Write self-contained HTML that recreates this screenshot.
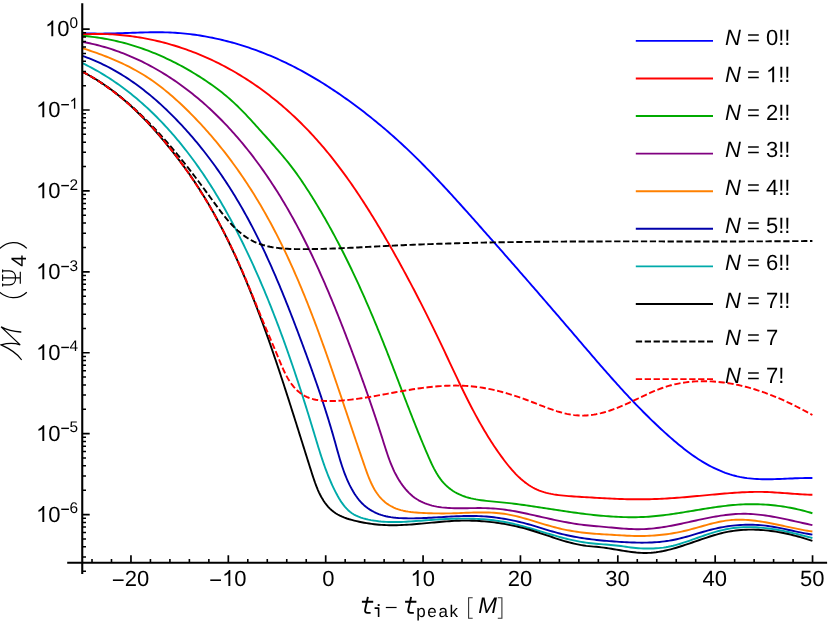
<!DOCTYPE html>
<html><head><meta charset="utf-8"><title>Mismatch plot</title>
<style>
html,body{margin:0;padding:0;background:#fff;}
body{width:830px;height:623px;overflow:hidden;font-family:"Liberation Sans",sans-serif;}
#wrap{will-change:transform;width:830px;height:623px;}
svg{display:block;}
</style></head><body>
<div id="wrap"><svg width="830" height="623" viewBox="0 0 830 623" style="text-rendering:geometricPrecision">
<rect width="830" height="623" fill="#fff"/>
<g fill="none" stroke-width="1.9" stroke-linejoin="round">
<path d="M82.3 33.09L84.8 33.23L87.32 33.34L89.85 33.43L92.37 33.5L94.89 33.55L97.41 33.58L99.93 33.59L102.45 33.59L104.96 33.57L107.48 33.53L110 33.49L112.51 33.43L115.02 33.37L117.53 33.29L120.04 33.21L122.55 33.13L125.06 33.04L127.57 32.95L130.08 32.86L132.59 32.77L135.09 32.69L137.6 32.61L140.1 32.53L142.61 32.46L145.11 32.39L147.61 32.34L150.12 32.3L152.62 32.27L155.12 32.25L157.62 32.25L160.12 32.26L162.62 32.3L165.13 32.35L167.63 32.42L170.13 32.52L172.63 32.64L175.12 32.79L177.62 32.96L180.12 33.15L182.62 33.37L185.12 33.61L187.61 33.87L190.11 34.16L192.6 34.48L195.09 34.81L197.58 35.17L200.06 35.56L202.55 35.96L205.03 36.39L207.51 36.84L209.98 37.31L212.45 37.8L214.92 38.32L217.38 38.85L219.84 39.41L222.3 39.99L224.75 40.59L227.2 41.21L229.64 41.86L232.07 42.52L234.5 43.2L236.93 43.9L239.35 44.63L241.77 45.37L244.17 46.13L246.57 46.91L248.97 47.71L251.36 48.53L253.74 49.37L256.11 50.22L258.48 51.09L260.84 51.99L263.19 52.9L265.54 53.83L267.87 54.77L270.2 55.73L272.52 56.71L274.83 57.71L277.13 58.72L279.42 59.75L281.7 60.8L283.97 61.86L286.23 62.94L288.49 64.04L290.73 65.15L292.97 66.27L295.19 67.41L297.41 68.57L299.62 69.74L301.82 70.93L304.01 72.13L306.2 73.34L308.37 74.57L310.54 75.81L312.7 77.07L314.85 78.34L317 79.62L319.13 80.92L321.26 82.23L323.38 83.55L325.5 84.88L327.6 86.23L329.7 87.59L331.8 88.96L333.88 90.34L335.96 91.74L338.03 93.14L340.1 94.56L342.16 95.99L344.21 97.43L346.26 98.88L348.3 100.34L350.34 101.81L352.37 103.29L354.39 104.78L356.41 106.28L358.42 107.79L360.43 109.31L362.43 110.84L364.42 112.37L366.41 113.92L368.39 115.48L370.37 117.05L372.33 118.62L374.3 120.21L376.25 121.8L378.2 123.4L380.14 125.01L382.07 126.63L384 128.26L385.92 129.9L387.83 131.54L389.73 133.19L391.63 134.85L393.52 136.52L395.4 138.2L397.27 139.89L399.13 141.58L400.99 143.28L402.84 144.99L404.68 146.7L406.51 148.42L408.33 150.15L410.15 151.89L411.96 153.63L413.76 155.38L415.56 157.14L417.35 158.9L419.13 160.67L420.91 162.45L422.68 164.23L424.44 166.01L426.2 167.8L427.95 169.6L429.7 171.4L431.44 173.21L433.17 175.02L434.9 176.84L436.63 178.66L438.35 180.48L440.07 182.31L441.78 184.14L443.49 185.98L445.2 187.82L446.9 189.66L448.6 191.51L450.3 193.36L451.99 195.21L453.68 197.07L455.36 198.93L457.05 200.79L458.73 202.65L460.41 204.51L462.09 206.38L463.76 208.25L465.44 210.12L467.11 211.99L468.78 213.86L470.45 215.74L472.12 217.61L473.79 219.49L475.46 221.37L477.13 223.24L478.8 225.12L480.46 227L482.13 228.88L483.79 230.76L485.46 232.64L487.12 234.52L488.79 236.4L490.45 238.28L492.11 240.17L493.78 242.05L495.44 243.94L497.1 245.82L498.76 247.71L500.42 249.59L502.08 251.48L503.74 253.37L505.39 255.26L507.05 257.15L508.71 259.04L510.36 260.93L512.02 262.82L513.67 264.71L515.33 266.6L516.98 268.49L518.64 270.38L520.29 272.28L521.94 274.17L523.59 276.07L525.24 277.96L526.89 279.86L528.54 281.75L530.19 283.65L531.84 285.55L533.49 287.45L535.13 289.35L536.78 291.24L538.43 293.14L540.07 295.04L541.72 296.94L543.36 298.85L545.01 300.75L546.65 302.65L548.29 304.55L549.93 306.45L551.58 308.36L553.22 310.26L554.86 312.17L556.5 314.07L558.13 315.98L559.77 317.88L561.41 319.79L563.05 321.7L564.68 323.6L566.32 325.51L567.96 327.42L569.59 329.33L571.23 331.24L572.86 333.15L574.49 335.06L576.12 336.97L577.76 338.88L579.39 340.79L581.02 342.7L582.65 344.61L584.29 346.52L585.92 348.43L587.55 350.33L589.19 352.24L590.82 354.15L592.46 356.05L594.1 357.96L595.74 359.86L597.38 361.76L599.02 363.66L600.67 365.55L602.32 367.44L603.97 369.34L605.63 371.22L607.28 373.11L608.94 374.99L610.61 376.87L612.28 378.75L613.95 380.62L615.62 382.49L617.3 384.35L618.99 386.21L620.67 388.07L622.37 389.92L624.07 391.77L625.77 393.61L627.48 395.45L629.19 397.28L630.91 399.11L632.64 400.93L634.37 402.74L636.1 404.55L637.85 406.36L639.6 408.16L641.36 409.95L643.12 411.73L644.89 413.51L646.67 415.28L648.46 417.05L650.25 418.81L652.06 420.56L653.87 422.3L655.68 424.04L657.51 425.76L659.35 427.48L661.19 429.19L663.05 430.9L664.91 432.59L666.78 434.28L668.67 435.95L670.56 437.62L672.46 439.28L674.37 440.92L676.3 442.55L678.24 444.17L680.19 445.77L682.16 447.35L684.13 448.91L686.13 450.45L688.14 451.97L690.17 453.46L692.21 454.93L694.27 456.37L696.36 457.78L698.46 459.17L700.57 460.52L702.72 461.83L704.88 463.11L707.06 464.36L709.27 465.57L711.49 466.73L713.74 467.86L716.01 468.94L718.3 469.97L720.61 470.96L722.93 471.9L725.27 472.78L727.64 473.61L730.01 474.39L732.4 475.11L734.81 475.76L737.23 476.36L739.67 476.89L742.12 477.35L744.58 477.76L747.05 478.11L749.53 478.4L752.02 478.65L754.52 478.85L757.03 479L759.54 479.11L762.06 479.19L764.58 479.23L767.11 479.25L769.64 479.23L772.18 479.19L774.72 479.13L777.25 479.06L779.79 478.97L782.33 478.87L784.86 478.76L787.39 478.65L789.92 478.54L792.44 478.43L794.96 478.32L797.48 478.23L799.98 478.15L802.48 478.08L804.97 478.03L807.45 478.01L809.92 478.01L812.4 478.04" stroke="#0000ff"/>
<path d="M82.3 34.45L84.82 34.31L87.33 34.19L89.84 34.1L92.36 34.03L94.87 33.99L97.38 33.97L99.89 33.98L102.4 34.02L104.91 34.08L107.42 34.16L109.93 34.27L112.44 34.41L114.95 34.57L117.45 34.75L119.96 34.96L122.46 35.19L124.96 35.45L127.45 35.73L129.95 36.04L132.44 36.37L134.93 36.72L137.41 37.1L139.89 37.5L142.37 37.92L144.84 38.37L147.31 38.84L149.78 39.33L152.24 39.85L154.7 40.39L157.15 40.95L159.59 41.54L162.03 42.14L164.47 42.77L166.9 43.43L169.32 44.1L171.74 44.8L174.15 45.52L176.55 46.26L178.95 47.02L181.34 47.8L183.72 48.61L186.1 49.43L188.47 50.28L190.83 51.15L193.18 52.04L195.52 52.96L197.86 53.89L200.18 54.84L202.5 55.81L204.81 56.81L207.1 57.82L209.39 58.86L211.67 59.91L213.94 60.99L216.2 62.08L218.45 63.2L220.7 64.33L222.93 65.49L225.15 66.66L227.36 67.85L229.56 69.06L231.75 70.29L233.93 71.53L236.1 72.8L238.26 74.08L240.41 75.38L242.55 76.69L244.68 78.03L246.79 79.38L248.9 80.75L251 82.14L253.08 83.54L255.16 84.96L257.22 86.39L259.27 87.85L261.31 89.31L263.34 90.8L265.36 92.3L267.36 93.81L269.36 95.34L271.34 96.89L273.31 98.45L275.27 100.02L277.22 101.61L279.15 103.22L281.08 104.83L282.99 106.47L284.89 108.11L286.77 109.77L288.65 111.45L290.51 113.13L292.36 114.83L294.2 116.54L296.02 118.27L297.83 120.01L299.63 121.76L301.42 123.52L303.19 125.3L304.95 127.09L306.7 128.88L308.44 130.69L310.16 132.52L311.87 134.35L313.56 136.19L315.25 138.05L316.92 139.91L318.58 141.79L320.23 143.68L321.87 145.57L323.49 147.48L325.11 149.4L326.71 151.33L328.3 153.26L329.89 155.21L331.46 157.16L333.02 159.12L334.57 161.1L336.1 163.08L337.63 165.07L339.15 167.07L340.66 169.07L342.16 171.09L343.65 173.11L345.13 175.14L346.6 177.17L348.06 179.22L349.52 181.27L350.96 183.33L352.4 185.39L353.82 187.46L355.24 189.54L356.65 191.62L358.05 193.71L359.45 195.81L360.83 197.91L362.21 200.02L363.58 202.13L364.94 204.25L366.3 206.37L367.65 208.5L368.99 210.63L370.33 212.77L371.66 214.91L372.98 217.06L374.29 219.21L375.6 221.36L376.91 223.52L378.2 225.68L379.5 227.84L380.78 230.01L382.06 232.18L383.34 234.35L384.61 236.52L385.87 238.7L387.13 240.88L388.39 243.06L389.64 245.24L390.88 247.43L392.13 249.62L393.36 251.81L394.59 254L395.82 256.19L397.05 258.39L398.26 260.58L399.48 262.78L400.69 264.98L401.9 267.18L403.1 269.39L404.3 271.6L405.49 273.8L406.68 276.01L407.86 278.23L409.05 280.44L410.22 282.65L411.4 284.87L412.56 287.09L413.73 289.31L414.89 291.53L416.05 293.76L417.2 295.98L418.35 298.21L419.5 300.44L420.64 302.67L421.78 304.91L422.91 307.14L424.04 309.38L425.17 311.62L426.3 313.86L427.42 316.1L428.53 318.35L429.65 320.59L430.76 322.84L431.86 325.09L432.97 327.34L434.07 329.59L435.16 331.85L436.26 334.1L437.35 336.36L438.44 338.62L439.52 340.88L440.6 343.14L441.68 345.41L442.75 347.67L443.83 349.94L444.89 352.21L445.96 354.48L447.03 356.75L448.09 359.02L449.16 361.3L450.22 363.57L451.29 365.84L452.35 368.11L453.42 370.38L454.49 372.66L455.56 374.93L456.64 377.19L457.71 379.46L458.8 381.73L459.88 383.99L460.97 386.25L462.07 388.51L463.17 390.77L464.27 393.02L465.39 395.27L466.51 397.52L467.64 399.76L468.77 402L469.92 404.24L471.07 406.47L472.23 408.7L473.4 410.92L474.59 413.14L475.78 415.35L476.98 417.56L478.2 419.76L479.43 421.96L480.67 424.15L481.92 426.33L483.19 428.51L484.47 430.67L485.77 432.84L487.08 434.99L488.4 437.14L489.75 439.28L491.1 441.41L492.48 443.54L493.87 445.65L495.28 447.76L496.71 449.86L498.16 451.95L499.62 454.03L501.11 456.1L502.62 458.16L504.14 460.21L505.69 462.24L507.27 464.25L508.87 466.23L510.5 468.18L512.16 470.1L513.84 471.97L515.56 473.8L517.32 475.58L519.11 477.31L520.94 478.98L522.8 480.59L524.71 482.12L526.66 483.59L528.65 484.97L530.69 486.28L532.77 487.5L534.9 488.63L537.09 489.66L539.32 490.59L541.6 491.42L543.93 492.17L546.3 492.83L548.71 493.41L551.15 493.93L553.62 494.38L556.12 494.77L558.64 495.11L561.18 495.41L563.74 495.66L566.3 495.89L568.88 496.09L571.45 496.27L574.03 496.45L576.61 496.61L579.17 496.77L581.73 496.94L584.29 497.1L586.84 497.26L589.38 497.42L591.91 497.57L594.44 497.73L596.97 497.87L599.49 498.02L602.01 498.16L604.52 498.29L607.03 498.42L609.54 498.54L612.04 498.66L614.55 498.77L617.04 498.87L619.54 498.96L622.04 499.04L624.53 499.11L627.02 499.18L629.51 499.23L632 499.27L634.49 499.3L636.99 499.32L639.48 499.32L641.97 499.31L644.46 499.29L646.96 499.25L649.45 499.2L651.95 499.13L654.45 499.05L656.96 498.96L659.46 498.85L661.96 498.73L664.47 498.59L666.98 498.45L669.49 498.3L671.99 498.13L674.5 497.96L677.01 497.77L679.53 497.58L682.04 497.38L684.55 497.18L687.06 496.97L689.57 496.75L692.08 496.53L694.59 496.3L697.1 496.07L699.61 495.84L702.12 495.61L704.62 495.37L707.13 495.13L709.63 494.9L712.14 494.66L714.64 494.43L717.14 494.2L719.64 493.97L722.14 493.75L724.64 493.53L727.14 493.33L729.64 493.13L732.14 492.94L734.64 492.77L737.14 492.6L739.64 492.45L742.14 492.32L744.64 492.2L747.14 492.1L749.64 492.02L752.15 491.95L754.65 491.91L757.16 491.89L759.66 491.9L762.17 491.92L764.68 491.98L767.19 492.06L769.71 492.16L772.22 492.29L774.74 492.43L777.25 492.59L779.77 492.76L782.29 492.94L784.81 493.13L787.32 493.32L789.84 493.51L792.35 493.69L794.87 493.88L797.38 494.05L799.89 494.21L802.4 494.36L804.9 494.5L807.41 494.61L809.91 494.7L812.4 494.76" stroke="#ff0000"/>
<path d="M82.3 35.87L84.75 36.07L87.28 36.3L89.8 36.56L92.31 36.84L94.81 37.16L97.31 37.5L99.8 37.87L102.29 38.27L104.77 38.69L107.24 39.14L109.7 39.62L112.16 40.13L114.61 40.66L117.06 41.21L119.5 41.8L121.93 42.4L124.35 43.04L126.77 43.7L129.17 44.38L131.57 45.09L133.97 45.82L136.35 46.58L138.73 47.36L141.1 48.17L143.46 48.99L145.81 49.84L148.15 50.72L150.49 51.62L152.81 52.54L155.13 53.48L157.44 54.44L159.74 55.43L162.04 56.44L164.32 57.47L166.59 58.52L168.86 59.59L171.11 60.68L173.36 61.79L175.59 62.93L177.82 64.08L180.04 65.25L182.25 66.45L184.44 67.66L186.63 68.89L188.81 70.14L190.98 71.41L193.13 72.7L195.28 74L197.42 75.32L199.54 76.67L201.66 78.02L203.76 79.4L205.86 80.79L207.94 82.2L210.01 83.63L212.06 85.08L214.11 86.55L216.13 88.03L218.14 89.54L220.14 91.06L222.11 92.61L224.07 94.18L226 95.77L227.92 97.39L229.81 99.03L231.68 100.69L233.53 102.37L235.36 104.08L237.17 105.81L238.96 107.56L240.73 109.33L242.48 111.11L244.23 112.91L245.95 114.72L247.67 116.54L249.38 118.38L251.08 120.22L252.77 122.07L254.46 123.93L256.14 125.79L257.83 127.66L259.51 129.53L261.19 131.39L262.87 133.26L264.55 135.13L266.23 137L267.9 138.87L269.58 140.74L271.25 142.62L272.91 144.5L274.57 146.39L276.22 148.28L277.86 150.17L279.5 152.08L281.12 153.99L282.74 155.91L284.34 157.83L285.93 159.77L287.51 161.72L289.07 163.68L290.61 165.64L292.14 167.63L293.65 169.62L295.15 171.63L296.62 173.65L298.07 175.69L299.51 177.74L300.92 179.8L302.32 181.87L303.71 183.96L305.09 186.05L306.46 188.15L307.82 190.25L309.17 192.36L310.51 194.47L311.84 196.59L313.17 198.72L314.48 200.85L315.79 202.99L317.09 205.13L318.38 207.28L319.66 209.43L320.94 211.59L322.21 213.75L323.46 215.92L324.72 218.09L325.96 220.27L327.19 222.46L328.42 224.64L329.64 226.84L330.85 229.03L332.06 231.23L333.26 233.44L334.45 235.65L335.63 237.87L336.8 240.09L337.97 242.31L339.13 244.54L340.29 246.77L341.44 249L342.58 251.24L343.71 253.48L344.84 255.73L345.96 257.98L347.07 260.23L348.18 262.49L349.28 264.75L350.38 267.01L351.47 269.27L352.55 271.54L353.63 273.81L354.7 276.09L355.76 278.37L356.82 280.65L357.87 282.93L358.92 285.22L359.96 287.5L361 289.79L362.03 292.09L363.06 294.38L364.08 296.68L365.09 298.98L366.1 301.28L367.11 303.58L368.11 305.89L369.1 308.19L370.09 310.5L371.08 312.81L372.06 315.13L373.03 317.44L374 319.75L374.97 322.07L375.93 324.39L376.89 326.7L377.84 329.02L378.79 331.34L379.74 333.66L380.68 335.99L381.62 338.31L382.55 340.63L383.48 342.96L384.4 345.28L385.33 347.6L386.25 349.93L387.16 352.26L388.07 354.58L388.98 356.91L389.88 359.23L390.79 361.56L391.69 363.89L392.59 366.21L393.48 368.54L394.38 370.87L395.27 373.19L396.16 375.52L397.05 377.85L397.95 380.18L398.84 382.51L399.73 384.84L400.62 387.17L401.51 389.5L402.4 391.83L403.29 394.16L404.19 396.49L405.08 398.82L405.98 401.16L406.88 403.49L407.78 405.82L408.69 408.16L409.6 410.49L410.51 412.83L411.42 415.16L412.34 417.5L413.26 419.84L414.19 422.18L415.12 424.51L416.05 426.85L416.99 429.19L417.93 431.53L418.88 433.87L419.84 436.22L420.8 438.56L421.77 440.9L422.75 443.25L423.73 445.59L424.71 447.94L425.71 450.28L426.71 452.63L427.72 454.98L428.74 457.33L429.78 459.67L430.83 462L431.91 464.32L433.02 466.6L434.17 468.86L435.36 471.07L436.61 473.24L437.91 475.36L439.27 477.42L440.71 479.4L442.22 481.32L443.82 483.15L445.5 484.9L447.26 486.56L449.11 488.12L451.04 489.58L453.04 490.95L455.11 492.22L457.24 493.38L459.43 494.44L461.68 495.4L463.98 496.27L466.32 497.04L468.71 497.74L471.13 498.36L473.59 498.91L476.08 499.4L478.6 499.83L481.13 500.22L483.68 500.56L486.25 500.87L488.82 501.15L491.4 501.41L493.97 501.65L496.54 501.89L499.1 502.12L501.65 502.35L504.18 502.6L506.69 502.86L509.18 503.14L511.66 503.43L514.12 503.73L516.58 504.05L519.04 504.37L521.49 504.71L523.95 505.05L526.41 505.4L528.87 505.76L531.34 506.12L533.81 506.48L536.28 506.85L538.75 507.23L541.22 507.61L543.7 507.98L546.17 508.36L548.65 508.75L551.13 509.13L553.61 509.51L556.1 509.89L558.58 510.26L561.07 510.64L563.56 511.01L566.05 511.37L568.54 511.74L571.03 512.09L573.52 512.44L576.01 512.79L578.51 513.12L581 513.45L583.5 513.77L586 514.08L588.49 514.38L590.99 514.67L593.49 514.94L595.99 515.21L598.49 515.46L600.99 515.7L603.49 515.92L605.99 516.13L608.49 516.32L610.99 516.5L613.49 516.65L616 516.8L618.5 516.92L621 517.02L623.5 517.1L626 517.17L628.5 517.21L631 517.23L633.49 517.22L635.99 517.2L638.49 517.15L640.99 517.07L643.48 516.97L645.98 516.84L648.47 516.69L650.97 516.51L653.46 516.3L655.95 516.07L658.44 515.82L660.93 515.54L663.42 515.24L665.91 514.93L668.4 514.6L670.89 514.25L673.38 513.89L675.86 513.52L678.35 513.13L680.84 512.74L683.32 512.34L685.81 511.93L688.3 511.52L690.78 511.11L693.27 510.69L695.75 510.27L698.24 509.86L700.72 509.45L703.21 509.04L705.7 508.64L708.18 508.24L710.67 507.86L713.16 507.49L715.64 507.12L718.13 506.77L720.62 506.44L723.11 506.13L725.6 505.83L728.09 505.55L730.58 505.29L733.07 505.06L735.57 504.85L738.06 504.66L740.56 504.51L743.05 504.38L745.55 504.28L748.05 504.22L750.55 504.18L753.04 504.18L755.54 504.2L758.04 504.26L760.54 504.35L763.04 504.47L765.53 504.61L768.03 504.79L770.52 505L773.01 505.24L775.5 505.51L777.99 505.82L780.47 506.15L782.95 506.51L785.43 506.9L787.9 507.33L790.37 507.78L792.84 508.27L795.3 508.78L797.76 509.33L800.21 509.9L802.65 510.51L805.09 511.14L807.53 511.81L809.96 512.51L812.4 513.24" stroke="#00aa00"/>
<path d="M82.3 41.83L84.68 42.29L87.17 42.77L89.65 43.29L92.13 43.83L94.59 44.41L97.05 45.01L99.49 45.64L101.93 46.3L104.35 46.99L106.77 47.7L109.18 48.44L111.57 49.21L113.96 50L116.33 50.82L118.7 51.67L121.05 52.54L123.4 53.43L125.73 54.36L128.05 55.3L130.37 56.27L132.67 57.27L134.96 58.29L137.24 59.33L139.51 60.39L141.77 61.48L144.02 62.59L146.25 63.73L148.48 64.89L150.69 66.06L152.89 67.26L155.08 68.49L157.26 69.73L159.43 70.99L161.58 72.28L163.73 73.58L165.86 74.9L167.98 76.25L170.08 77.61L172.18 78.99L174.26 80.4L176.33 81.82L178.39 83.25L180.44 84.71L182.47 86.18L184.49 87.68L186.5 89.18L188.49 90.71L190.48 92.25L192.44 93.81L194.4 95.39L196.34 96.98L198.27 98.58L200.19 100.2L202.09 101.84L203.98 103.49L205.86 105.16L207.72 106.84L209.58 108.53L211.41 110.24L213.24 111.96L215.05 113.7L216.85 115.45L218.63 117.21L220.41 118.99L222.17 120.78L223.92 122.58L225.65 124.39L227.37 126.22L229.08 128.05L230.78 129.9L232.47 131.77L234.14 133.64L235.8 135.52L237.45 137.42L239.09 139.33L240.71 141.24L242.32 143.17L243.92 145.11L245.51 147.06L247.09 149.02L248.65 150.98L250.2 152.96L251.75 154.95L253.28 156.95L254.79 158.95L256.3 160.97L257.79 162.99L259.28 165.02L260.75 167.06L262.21 169.11L263.66 171.16L265.1 173.23L266.52 175.3L267.94 177.37L269.35 179.46L270.74 181.55L272.12 183.65L273.49 185.75L274.86 187.87L276.21 189.98L277.55 192.11L278.88 194.24L280.2 196.37L281.5 198.52L282.8 200.67L284.09 202.82L285.37 204.98L286.64 207.14L287.9 209.31L289.15 211.49L290.39 213.67L291.62 215.86L292.84 218.05L294.06 220.25L295.26 222.45L296.46 224.66L297.64 226.87L298.82 229.08L299.99 231.31L301.15 233.53L302.3 235.76L303.45 238L304.58 240.24L305.71 242.48L306.83 244.73L307.94 246.98L309.05 249.23L310.15 251.49L311.24 253.75L312.32 256.02L313.4 258.29L314.46 260.57L315.53 262.84L316.58 265.12L317.63 267.41L318.67 269.7L319.71 271.99L320.74 274.28L321.76 276.58L322.78 278.88L323.79 281.18L324.79 283.48L325.79 285.79L326.78 288.1L327.77 290.41L328.75 292.73L329.73 295.04L330.7 297.36L331.67 299.69L332.63 302.01L333.58 304.33L334.54 306.66L335.48 308.99L336.43 311.32L337.36 313.65L338.3 315.99L339.23 318.32L340.15 320.66L341.08 322.99L341.99 325.33L342.91 327.67L343.82 330.01L344.73 332.36L345.63 334.7L346.53 337.04L347.43 339.39L348.32 341.73L349.21 344.07L350.1 346.42L350.99 348.77L351.87 351.11L352.75 353.46L353.63 355.8L354.5 358.15L355.37 360.5L356.24 362.85L357.11 365.2L357.97 367.55L358.83 369.9L359.69 372.25L360.55 374.6L361.4 376.96L362.25 379.31L363.09 381.67L363.94 384.03L364.78 386.39L365.62 388.75L366.45 391.11L367.28 393.47L368.11 395.84L368.93 398.21L369.76 400.58L370.57 402.95L371.39 405.32L372.2 407.7L373.01 410.08L373.82 412.46L374.62 414.84L375.42 417.23L376.21 419.62L377 422.01L377.79 424.4L378.58 426.8L379.36 429.2L380.14 431.6L380.91 434L381.68 436.41L382.45 438.82L383.22 441.24L383.98 443.66L384.74 446.07L385.52 448.49L386.3 450.9L387.1 453.31L387.92 455.7L388.77 458.09L389.64 460.46L390.55 462.82L391.49 465.16L392.48 467.48L393.51 469.78L394.59 472.06L395.73 474.31L396.93 476.53L398.19 478.73L399.52 480.89L400.92 483.01L402.39 485.1L403.93 487.13L405.54 489.1L407.22 491L408.97 492.82L410.78 494.54L412.66 496.16L414.59 497.66L416.58 499.04L418.63 500.3L420.74 501.44L422.89 502.46L425.09 503.39L427.34 504.21L429.64 504.93L431.97 505.57L434.34 506.12L436.74 506.59L439.18 506.99L441.65 507.33L444.14 507.6L446.66 507.82L449.2 507.98L451.76 508.1L454.34 508.18L456.93 508.23L459.53 508.25L462.13 508.25L464.75 508.23L467.36 508.2L469.98 508.16L472.59 508.12L475.2 508.09L477.8 508.07L480.39 508.07L482.96 508.09L485.52 508.13L488.06 508.21L490.58 508.33L493.08 508.48L495.57 508.67L498.04 508.89L500.5 509.14L502.95 509.43L505.39 509.74L507.82 510.09L510.25 510.46L512.67 510.86L515.09 511.29L517.51 511.74L519.94 512.22L522.37 512.72L524.8 513.24L527.23 513.78L529.67 514.32L532.11 514.87L534.56 515.42L537 515.98L539.45 516.53L541.91 517.09L544.36 517.64L546.82 518.19L549.28 518.74L551.74 519.28L554.21 519.81L556.68 520.33L559.15 520.84L561.62 521.33L564.09 521.82L566.57 522.28L569.05 522.73L571.53 523.16L574.01 523.57L576.49 523.96L578.98 524.33L581.46 524.67L583.95 524.98L586.44 525.27L588.93 525.52L591.42 525.76L593.91 525.98L596.4 526.19L598.9 526.4L601.4 526.62L603.9 526.85L606.4 527.09L608.91 527.33L611.42 527.57L613.92 527.81L616.43 528.04L618.94 528.25L621.45 528.46L623.96 528.64L626.47 528.81L628.97 528.95L631.48 529.06L633.99 529.15L636.49 529.19L639 529.2L641.5 529.17L644 529.1L646.49 528.97L648.99 528.81L651.48 528.6L653.97 528.35L656.46 528.06L658.95 527.74L661.43 527.39L663.91 527.01L666.39 526.6L668.87 526.16L671.35 525.71L673.83 525.23L676.31 524.74L678.78 524.23L681.26 523.71L683.73 523.18L686.2 522.64L688.68 522.1L691.15 521.55L693.62 521L696.09 520.46L698.56 519.92L701.03 519.39L703.5 518.86L705.97 518.35L708.44 517.86L710.91 517.38L713.38 516.92L715.86 516.48L718.33 516.07L720.8 515.68L723.28 515.32L725.75 514.99L728.23 514.7L730.71 514.45L733.19 514.23L735.67 514.05L738.15 513.92L740.63 513.84L743.11 513.8L745.6 513.82L748.09 513.88L750.58 513.99L753.07 514.15L755.56 514.34L758.05 514.58L760.54 514.86L763.03 515.17L765.52 515.51L768.01 515.88L770.5 516.28L772.99 516.71L775.47 517.16L777.95 517.63L780.43 518.12L782.91 518.63L785.39 519.15L787.86 519.68L790.33 520.22L792.79 520.76L795.25 521.31L797.7 521.87L800.16 522.42L802.6 522.97L805.04 523.51L807.48 524.05L809.9 524.57L812.4 525.09" stroke="#800080"/>
<path d="M82.3 48.19L84.69 48.95L87.08 49.72L89.47 50.51L91.86 51.32L94.23 52.14L96.61 52.97L98.98 53.83L101.34 54.7L103.69 55.59L106.04 56.5L108.38 57.42L110.7 58.37L113.02 59.34L115.33 60.32L117.63 61.33L119.92 62.36L122.2 63.42L124.46 64.49L126.72 65.59L128.96 66.72L131.18 67.87L133.39 69.04L135.59 70.24L137.77 71.47L139.94 72.72L142.09 74L144.22 75.31L146.33 76.64L148.43 78.01L150.51 79.4L152.57 80.82L154.62 82.27L156.65 83.74L158.66 85.24L160.66 86.76L162.64 88.3L164.6 89.87L166.55 91.45L168.49 93.06L170.41 94.68L172.31 96.33L174.2 97.99L176.08 99.67L177.95 101.36L179.8 103.07L181.64 104.79L183.47 106.52L185.28 108.27L187.08 110.03L188.88 111.8L190.66 113.58L192.42 115.37L194.18 117.17L195.92 118.98L197.66 120.8L199.38 122.63L201.09 124.47L202.79 126.32L204.48 128.18L206.15 130.05L207.82 131.92L209.47 133.81L211.12 135.71L212.75 137.62L214.37 139.53L215.98 141.46L217.58 143.39L219.16 145.33L220.74 147.29L222.3 149.25L223.86 151.21L225.4 153.19L226.93 155.18L228.45 157.17L229.96 159.17L231.46 161.18L232.95 163.2L234.43 165.23L235.89 167.26L237.35 169.3L238.8 171.35L240.23 173.41L241.65 175.47L243.07 177.54L244.47 179.62L245.86 181.71L247.24 183.8L248.62 185.9L249.98 188.01L251.33 190.12L252.67 192.24L253.99 194.37L255.31 196.5L256.62 198.64L257.92 200.78L259.21 202.94L260.49 205.09L261.75 207.26L263.01 209.43L264.26 211.6L265.49 213.79L266.72 215.97L267.94 218.17L269.15 220.37L270.35 222.57L271.54 224.78L272.72 226.99L273.89 229.21L275.05 231.44L276.2 233.67L277.35 235.9L278.48 238.14L279.61 240.38L280.73 242.63L281.84 244.88L282.94 247.14L284.03 249.4L285.12 251.67L286.19 253.94L287.26 256.21L288.32 258.49L289.38 260.77L290.43 263.06L291.46 265.35L292.5 267.64L293.52 269.94L294.54 272.24L295.55 274.55L296.55 276.85L297.55 279.16L298.54 281.48L299.52 283.79L300.5 286.11L301.47 288.44L302.44 290.76L303.39 293.09L304.35 295.42L305.29 297.75L306.23 300.09L307.17 302.43L308.1 304.77L309.02 307.11L309.94 309.45L310.86 311.8L311.76 314.15L312.67 316.5L313.57 318.85L314.46 321.2L315.35 323.56L316.23 325.92L317.11 328.27L317.99 330.63L318.86 332.99L319.73 335.36L320.59 337.72L321.45 340.08L322.31 342.45L323.16 344.81L324 347.18L324.85 349.54L325.69 351.91L326.53 354.28L327.36 356.65L328.19 359.02L329.02 361.39L329.85 363.75L330.67 366.12L331.49 368.49L332.31 370.86L333.13 373.23L333.94 375.6L334.75 377.96L335.56 380.33L336.36 382.7L337.17 385.06L337.97 387.43L338.77 389.79L339.57 392.15L340.37 394.52L341.17 396.88L341.97 399.24L342.76 401.6L343.56 403.96L344.35 406.33L345.15 408.69L345.94 411.05L346.74 413.42L347.53 415.78L348.33 418.15L349.12 420.52L349.92 422.89L350.72 425.26L351.52 427.63L352.32 430.01L353.12 432.39L353.92 434.77L354.73 437.15L355.54 439.54L356.35 441.93L357.16 444.32L357.97 446.72L358.79 449.12L359.61 451.52L360.44 453.93L361.26 456.34L362.1 458.76L362.93 461.18L363.77 463.6L364.61 466.03L365.46 468.47L366.32 470.9L367.2 473.32L368.11 475.72L369.05 478.1L370.03 480.45L371.06 482.76L372.14 485.03L373.28 487.25L374.48 489.42L375.76 491.52L377.12 493.55L378.57 495.5L380.11 497.37L381.76 499.15L383.51 500.84L385.37 502.42L387.34 503.89L389.4 505.24L391.56 506.47L393.78 507.56L396.07 508.52L398.43 509.36L400.83 510.08L403.28 510.7L405.77 511.22L408.28 511.66L410.83 512.02L413.39 512.31L415.96 512.54L418.53 512.73L421.1 512.88L423.67 513.01L426.21 513.11L428.74 513.2L431.25 513.28L433.75 513.34L436.23 513.38L438.71 513.41L441.19 513.43L443.66 513.43L446.14 513.41L448.62 513.38L451.1 513.33L453.59 513.26L456.09 513.18L458.6 513.1L461.11 513L463.63 512.91L466.15 512.81L468.68 512.72L471.21 512.64L473.74 512.57L476.27 512.51L478.79 512.47L481.32 512.46L483.85 512.46L486.37 512.5L488.89 512.56L491.41 512.66L493.92 512.8L496.42 512.98L498.91 513.21L501.4 513.48L503.88 513.8L506.35 514.18L508.81 514.61L511.26 515.09L513.7 515.61L516.14 516.17L518.57 516.77L520.99 517.4L523.41 518.06L525.82 518.74L528.23 519.44L530.64 520.15L533.05 520.88L535.45 521.61L537.86 522.35L540.26 523.09L542.67 523.82L545.08 524.55L547.49 525.26L549.9 525.96L552.32 526.63L554.74 527.29L557.17 527.91L559.6 528.5L562.04 529.06L564.49 529.59L566.94 530.08L569.39 530.55L571.86 530.98L574.32 531.39L576.8 531.77L579.27 532.12L581.75 532.44L584.24 532.74L586.73 533.01L589.23 533.26L591.72 533.48L594.22 533.69L596.73 533.88L599.24 534.05L601.75 534.22L604.26 534.37L606.77 534.52L609.29 534.66L611.8 534.8L614.32 534.94L616.84 535.08L619.36 535.23L621.88 535.38L624.4 535.54L626.92 535.68L629.43 535.81L631.95 535.91L634.45 535.98L636.96 536.02L639.46 536.04L641.96 536.02L644.46 535.98L646.95 535.9L649.44 535.8L651.93 535.66L654.41 535.5L656.89 535.3L659.37 535.07L661.85 534.81L664.33 534.52L666.8 534.2L669.27 533.85L671.74 533.47L674.2 533.05L676.67 532.6L679.13 532.11L681.59 531.6L684.05 531.05L686.51 530.47L688.97 529.85L691.42 529.2L693.87 528.54L696.33 527.86L698.78 527.16L701.23 526.47L703.68 525.78L706.14 525.09L708.59 524.42L711.04 523.77L713.5 523.15L715.96 522.56L718.41 522.01L720.87 521.51L723.34 521.06L725.8 520.66L728.27 520.33L730.74 520.07L733.21 519.88L735.69 519.76L738.16 519.7L740.64 519.7L743.12 519.75L745.61 519.86L748.09 520.02L750.58 520.23L753.06 520.48L755.55 520.77L758.04 521.1L760.52 521.47L763.01 521.87L765.5 522.29L767.98 522.74L770.47 523.21L772.95 523.7L775.43 524.21L777.91 524.73L780.39 525.25L782.86 525.79L785.34 526.32L787.81 526.86L790.27 527.39L792.74 527.92L795.2 528.43L797.65 528.93L800.11 529.42L802.56 529.88L805 530.33L807.44 530.75L809.87 531.14L812.4 531.49" stroke="#ff8000"/>
<path d="M82.3 55.82L84.62 56.67L87 57.54L89.36 58.45L91.71 59.39L94.04 60.36L96.36 61.36L98.66 62.39L100.94 63.44L103.21 64.52L105.47 65.63L107.7 66.77L109.93 67.94L112.13 69.13L114.33 70.34L116.5 71.59L118.66 72.85L120.81 74.14L122.94 75.46L125.06 76.8L127.16 78.16L129.25 79.54L131.32 80.95L133.38 82.38L135.43 83.83L137.46 85.3L139.48 86.79L141.48 88.3L143.47 89.83L145.44 91.38L147.4 92.95L149.35 94.53L151.28 96.14L153.2 97.76L155.11 99.4L157 101.05L158.88 102.73L160.75 104.41L162.6 106.11L164.44 107.83L166.27 109.56L168.08 111.31L169.89 113.06L171.68 114.84L173.45 116.62L175.22 118.42L176.97 120.22L178.71 122.04L180.44 123.87L182.15 125.71L183.86 127.56L185.55 129.42L187.23 131.29L188.89 133.17L190.55 135.06L192.19 136.96L193.82 138.87L195.44 140.79L197.05 142.72L198.65 144.66L200.23 146.6L201.8 148.56L203.36 150.52L204.91 152.5L206.45 154.48L207.97 156.47L209.49 158.47L210.99 160.48L212.48 162.5L213.96 164.53L215.43 166.56L216.88 168.6L218.33 170.65L219.76 172.71L221.19 174.78L222.6 176.85L224 178.93L225.38 181.02L226.76 183.12L228.13 185.22L229.48 187.33L230.83 189.45L232.16 191.57L233.48 193.7L234.79 195.84L236.09 197.99L237.38 200.14L238.66 202.3L239.92 204.46L241.18 206.63L242.42 208.81L243.66 210.99L244.89 213.18L246.1 215.37L247.31 217.57L248.5 219.78L249.69 221.99L250.86 224.21L252.03 226.43L253.19 228.66L254.34 230.89L255.48 233.13L256.61 235.37L257.73 237.62L258.85 239.87L259.95 242.13L261.05 244.39L262.14 246.65L263.22 248.92L264.29 251.19L265.36 253.47L266.42 255.75L267.47 258.04L268.51 260.33L269.55 262.62L270.58 264.91L271.6 267.21L272.62 269.52L273.63 271.82L274.63 274.13L275.63 276.44L276.62 278.76L277.6 281.07L278.58 283.39L279.56 285.72L280.52 288.04L281.49 290.37L282.44 292.7L283.4 295.03L284.34 297.36L285.28 299.7L286.22 302.03L287.15 304.37L288.08 306.71L289.01 309.05L289.92 311.4L290.84 313.74L291.75 316.09L292.66 318.43L293.56 320.78L294.46 323.13L295.36 325.48L296.26 327.83L297.15 330.18L298.03 332.53L298.92 334.88L299.8 337.23L300.68 339.58L301.56 341.93L302.43 344.28L303.31 346.63L304.18 348.98L305.05 351.33L305.91 353.68L306.77 356.03L307.63 358.38L308.49 360.74L309.34 363.09L310.19 365.44L311.04 367.8L311.88 370.15L312.72 372.51L313.56 374.87L314.39 377.23L315.22 379.59L316.05 381.95L316.87 384.31L317.68 386.68L318.49 389.05L319.3 391.42L320.1 393.79L320.9 396.16L321.69 398.54L322.48 400.92L323.26 403.3L324.04 405.69L324.81 408.07L325.57 410.46L326.33 412.86L327.09 415.25L327.84 417.65L328.58 420.06L329.31 422.46L330.04 424.87L330.77 427.29L331.49 429.71L332.2 432.13L332.9 434.56L333.6 436.99L334.29 439.42L334.97 441.86L335.65 444.3L336.33 446.75L337.01 449.19L337.69 451.63L338.38 454.07L339.09 456.51L339.81 458.94L340.54 461.36L341.3 463.77L342.08 466.18L342.89 468.57L343.73 470.95L344.6 473.31L345.51 475.66L346.46 477.99L347.46 480.3L348.5 482.59L349.58 484.86L350.73 487.1L351.92 489.32L353.18 491.51L354.5 493.66L355.89 495.77L357.35 497.81L358.88 499.79L360.5 501.68L362.21 503.48L364.01 505.17L365.89 506.75L367.86 508.23L369.9 509.6L372.02 510.87L374.2 512.03L376.43 513.08L378.73 514.02L381.07 514.86L383.45 515.6L385.87 516.23L388.33 516.75L390.81 517.18L393.32 517.52L395.84 517.79L398.38 518L400.93 518.14L403.47 518.24L406.02 518.31L408.57 518.34L411.11 518.35L413.65 518.33L416.18 518.29L418.71 518.23L421.24 518.15L423.76 518.05L426.28 517.94L428.8 517.82L431.32 517.69L433.83 517.55L436.34 517.4L438.85 517.25L441.36 517.1L443.87 516.95L446.37 516.8L448.87 516.66L451.37 516.53L453.87 516.4L456.37 516.29L458.87 516.19L461.37 516.1L463.87 516.03L466.36 515.98L468.86 515.96L471.36 515.96L473.86 515.98L476.35 516.04L478.85 516.12L481.35 516.24L483.85 516.39L486.35 516.57L488.85 516.79L491.35 517.03L493.84 517.31L496.34 517.62L498.83 517.96L501.32 518.33L503.81 518.73L506.29 519.16L508.77 519.62L511.25 520.11L513.72 520.62L516.18 521.16L518.64 521.73L521.1 522.32L523.54 522.94L525.98 523.59L528.41 524.25L530.84 524.95L533.25 525.66L535.66 526.39L538.07 527.12L540.47 527.87L542.88 528.61L545.28 529.36L547.68 530.09L550.08 530.82L552.49 531.53L554.9 532.21L557.31 532.88L559.73 533.51L562.16 534.12L564.59 534.69L567.03 535.24L569.48 535.76L571.93 536.26L574.39 536.72L576.85 537.17L579.31 537.59L581.79 537.99L584.26 538.37L586.74 538.72L589.23 539.06L591.72 539.37L594.21 539.67L596.7 539.95L599.2 540.22L601.71 540.46L604.21 540.7L606.72 540.92L609.23 541.12L611.74 541.32L614.25 541.5L616.77 541.67L619.29 541.83L621.8 541.99L624.32 542.13L626.84 542.26L629.36 542.38L631.88 542.48L634.4 542.56L636.92 542.62L639.44 542.66L641.95 542.68L644.46 542.67L646.97 542.63L649.48 542.56L651.98 542.46L654.48 542.32L656.98 542.15L659.47 541.94L661.95 541.68L664.43 541.39L666.9 541.05L669.37 540.67L671.83 540.23L674.28 539.75L676.73 539.22L679.17 538.64L681.6 538.04L684.03 537.4L686.46 536.73L688.89 536.04L691.31 535.34L693.73 534.63L696.15 533.91L698.58 533.19L701 532.47L703.43 531.77L705.86 531.08L708.29 530.41L710.73 529.76L713.18 529.15L715.63 528.57L718.09 528.03L720.55 527.52L723.02 527.06L725.5 526.64L727.98 526.26L730.46 525.92L732.95 525.62L735.44 525.36L737.94 525.14L740.43 524.97L742.93 524.84L745.43 524.75L747.94 524.71L750.44 524.71L752.94 524.76L755.44 524.85L757.94 524.99L760.44 525.17L762.94 525.4L765.43 525.68L767.93 526L770.42 526.36L772.9 526.77L775.39 527.2L777.87 527.66L780.35 528.15L782.83 528.66L785.3 529.18L787.78 529.71L790.25 530.25L792.72 530.79L795.18 531.32L797.65 531.85L800.11 532.37L802.57 532.86L805.03 533.34L807.48 533.79L809.94 534.22L812.4 534.6" stroke="#0000aa"/>
<path d="M82.3 63.11L84.63 64.21L86.88 65.33L89.12 66.48L91.34 67.65L93.55 68.84L95.74 70.05L97.92 71.28L100.09 72.54L102.24 73.82L104.38 75.12L106.51 76.44L108.62 77.78L110.72 79.15L112.8 80.53L114.87 81.93L116.92 83.35L118.97 84.79L121 86.26L123.01 87.74L125.01 89.23L127 90.75L128.97 92.29L130.93 93.84L132.88 95.41L134.81 97L136.73 98.6L138.64 100.22L140.53 101.86L142.41 103.51L144.28 105.18L146.13 106.87L147.97 108.57L149.8 110.28L151.61 112.01L153.42 113.76L155.2 115.51L156.98 117.29L158.74 119.07L160.49 120.87L162.22 122.69L163.94 124.51L165.65 126.35L167.35 128.2L169.03 130.06L170.7 131.94L172.36 133.82L174 135.72L175.63 137.63L177.25 139.55L178.86 141.48L180.45 143.42L182.03 145.36L183.6 147.32L185.16 149.29L186.7 151.27L188.23 153.25L189.75 155.25L191.26 157.25L192.75 159.26L194.23 161.28L195.7 163.31L197.16 165.35L198.61 167.39L200.04 169.44L201.46 171.5L202.88 173.57L204.28 175.64L205.67 177.73L207.04 179.82L208.41 181.91L209.77 184.02L211.12 186.13L212.45 188.24L213.78 190.37L215.09 192.5L216.4 194.64L217.69 196.78L218.98 198.93L220.25 201.09L221.52 203.25L222.77 205.42L224.02 207.59L225.26 209.77L226.48 211.95L227.7 214.14L228.91 216.34L230.11 218.54L231.3 220.74L232.49 222.95L233.66 225.17L234.83 227.39L235.98 229.61L237.13 231.84L238.27 234.07L239.41 236.31L240.53 238.55L241.65 240.79L242.76 243.04L243.86 245.29L244.96 247.55L246.05 249.81L247.13 252.07L248.2 254.34L249.26 256.61L250.32 258.88L251.38 261.15L252.42 263.43L253.46 265.71L254.49 267.99L255.52 270.28L256.54 272.57L257.55 274.86L258.56 277.16L259.56 279.45L260.55 281.75L261.54 284.06L262.52 286.36L263.5 288.67L264.47 290.98L265.43 293.29L266.39 295.61L267.34 297.93L268.29 300.25L269.23 302.57L270.16 304.89L271.09 307.22L272.01 309.55L272.93 311.88L273.84 314.22L274.75 316.55L275.65 318.89L276.55 321.23L277.44 323.58L278.33 325.92L279.21 328.27L280.09 330.62L280.96 332.97L281.83 335.32L282.69 337.67L283.55 340.03L284.4 342.39L285.25 344.75L286.1 347.11L286.94 349.47L287.77 351.84L288.6 354.21L289.43 356.57L290.26 358.94L291.07 361.32L291.89 363.69L292.7 366.06L293.51 368.44L294.31 370.82L295.11 373.2L295.91 375.58L296.7 377.96L297.49 380.34L298.27 382.72L299.05 385.11L299.83 387.5L300.61 389.88L301.38 392.27L302.15 394.66L302.91 397.05L303.67 399.45L304.43 401.84L305.19 404.23L305.94 406.63L306.69 409.02L307.44 411.42L308.18 413.82L308.93 416.22L309.67 418.61L310.4 421.01L311.14 423.41L311.87 425.82L312.6 428.22L313.33 430.62L314.06 433.02L314.78 435.43L315.5 437.83L316.23 440.23L316.96 442.63L317.69 445.03L318.42 447.43L319.17 449.83L319.92 452.22L320.68 454.6L321.46 456.99L322.25 459.36L323.05 461.74L323.87 464.1L324.7 466.46L325.56 468.81L326.43 471.16L327.33 473.5L328.25 475.82L329.2 478.14L330.17 480.45L331.17 482.75L332.2 485.03L333.26 487.31L334.36 489.57L335.49 491.82L336.65 494.06L337.85 496.28L339.11 498.46L340.42 500.6L341.8 502.67L343.25 504.68L344.78 506.61L346.41 508.44L348.13 510.16L349.96 511.75L351.91 513.22L353.97 514.54L356.17 515.7L358.48 516.72L360.89 517.6L363.36 518.37L365.87 519.03L368.41 519.6L370.95 520.1L373.48 520.54L376.01 520.91L378.53 521.23L381.05 521.49L383.56 521.69L386.06 521.85L388.57 521.96L391.07 522.03L393.56 522.05L396.06 522.05L398.55 522L401.04 521.93L403.53 521.83L406.02 521.71L408.5 521.57L410.99 521.41L413.48 521.24L415.97 521.06L418.46 520.87L420.95 520.68L423.45 520.49L425.95 520.3L428.45 520.12L430.95 519.94L433.46 519.77L435.97 519.6L438.48 519.45L440.99 519.3L443.5 519.17L446.01 519.05L448.53 518.94L451.04 518.84L453.55 518.76L456.07 518.7L458.58 518.65L461.09 518.62L463.61 518.61L466.12 518.61L468.63 518.64L471.13 518.69L473.64 518.77L476.14 518.86L478.64 518.98L481.14 519.13L483.63 519.3L486.12 519.5L488.61 519.73L491.09 519.99L493.57 520.28L496.04 520.6L498.51 520.96L500.97 521.35L503.43 521.77L505.88 522.23L508.33 522.72L510.77 523.24L513.2 523.79L515.64 524.37L518.07 524.97L520.49 525.6L522.91 526.25L525.33 526.91L527.75 527.59L530.16 528.28L532.57 528.99L534.98 529.7L537.39 530.42L539.8 531.14L542.21 531.87L544.62 532.59L547.03 533.32L549.44 534.03L551.85 534.74L554.27 535.44L556.68 536.13L559.1 536.81L561.52 537.46L563.95 538.1L566.37 538.72L568.81 539.32L571.24 539.89L573.68 540.43L576.13 540.94L578.58 541.42L581.04 541.86L583.5 542.27L585.97 542.63L588.45 542.96L590.93 543.25L593.42 543.51L595.91 543.74L598.41 543.95L600.91 544.15L603.41 544.34L605.91 544.54L608.42 544.74L610.92 544.95L613.42 545.18L615.91 545.43L618.4 545.72L620.89 546.05L623.38 546.4L625.86 546.77L628.34 547.13L630.84 547.46L633.34 547.74L635.84 547.99L638.35 548.2L640.86 548.36L643.37 548.47L645.88 548.54L648.39 548.56L650.9 548.53L653.4 548.45L655.9 548.31L658.39 548.12L660.87 547.87L663.35 547.57L665.81 547.2L668.26 546.77L670.7 546.28L673.13 545.73L675.54 545.11L677.94 544.44L680.33 543.73L682.71 542.97L685.1 542.19L687.48 541.38L689.86 540.55L692.25 539.71L694.64 538.87L697.03 538.02L699.42 537.18L701.82 536.34L704.22 535.51L706.63 534.7L709.04 533.9L711.45 533.13L713.87 532.4L716.29 531.69L718.72 531.02L721.15 530.39L723.59 529.82L726.03 529.29L728.48 528.82L730.94 528.4L733.4 528.05L735.87 527.76L738.34 527.52L740.82 527.34L743.3 527.21L745.78 527.13L748.27 527.1L750.76 527.12L753.25 527.18L755.75 527.29L758.24 527.45L760.74 527.64L763.23 527.87L765.73 528.14L768.22 528.44L770.71 528.78L773.2 529.15L775.69 529.55L778.18 529.98L780.66 530.44L783.13 530.92L785.6 531.43L788.07 531.95L790.53 532.5L792.99 533.07L795.44 533.65L797.88 534.25L800.31 534.85L802.74 535.48L805.15 536.11L807.56 536.74L809.96 537.39L812.4 538.04" stroke="#00aaaa"/>
<path d="M82.3 71.63L84.43 72.79L86.68 73.99L88.9 75.21L91.11 76.46L93.29 77.74L95.46 79.04L97.6 80.36L99.73 81.71L101.83 83.09L103.92 84.49L105.98 85.91L108.03 87.35L110.06 88.82L112.08 90.31L114.07 91.82L116.05 93.35L118.01 94.9L119.95 96.48L121.88 98.07L123.79 99.68L125.68 101.31L127.56 102.96L129.42 104.63L131.27 106.31L133.1 108.01L134.92 109.73L136.72 111.46L138.51 113.21L140.29 114.97L142.05 116.75L143.8 118.54L145.54 120.35L147.26 122.17L148.97 124L150.67 125.84L152.36 127.7L154.04 129.57L155.7 131.45L157.36 133.33L159 135.23L160.63 137.14L162.26 139.06L163.87 140.99L165.47 142.92L167.07 144.86L168.65 146.81L170.23 148.77L171.8 150.73L173.36 152.7L174.91 154.67L176.45 156.65L177.98 158.64L179.51 160.64L181.02 162.64L182.52 164.65L184.01 166.67L185.49 168.7L186.95 170.73L188.4 172.77L189.84 174.82L191.27 176.88L192.69 178.95L194.09 181.03L195.48 183.11L196.85 185.21L198.22 187.31L199.57 189.42L200.91 191.53L202.24 193.65L203.56 195.79L204.86 197.92L206.16 200.07L207.44 202.22L208.71 204.38L209.97 206.55L211.22 208.72L212.46 210.9L213.68 213.08L214.9 215.27L216.11 217.47L217.3 219.68L218.49 221.89L219.66 224.1L220.83 226.32L221.99 228.55L223.13 230.78L224.27 233.02L225.4 235.26L226.52 237.51L227.63 239.76L228.73 242.02L229.82 244.28L230.9 246.55L231.97 248.82L233.04 251.09L234.1 253.37L235.15 255.65L236.19 257.94L237.22 260.23L238.25 262.52L239.26 264.82L240.27 267.12L241.28 269.43L242.27 271.73L243.26 274.04L244.24 276.36L245.21 278.67L246.18 280.99L247.14 283.31L248.1 285.63L249.04 287.96L249.99 290.29L250.92 292.62L251.85 294.95L252.77 297.28L253.69 299.62L254.6 301.95L255.51 304.29L256.41 306.63L257.31 308.97L258.2 311.31L259.08 313.65L259.96 316L260.84 318.34L261.71 320.69L262.58 323.04L263.44 325.39L264.29 327.74L265.15 330.1L266 332.45L266.84 334.81L267.68 337.16L268.52 339.52L269.35 341.88L270.18 344.24L271 346.61L271.82 348.97L272.64 351.33L273.45 353.7L274.26 356.07L275.07 358.44L275.87 360.81L276.68 363.18L277.47 365.55L278.27 367.92L279.06 370.3L279.85 372.67L280.64 375.05L281.42 377.43L282.21 379.81L282.99 382.19L283.77 384.57L284.54 386.96L285.32 389.34L286.09 391.72L286.86 394.11L287.63 396.5L288.4 398.89L289.16 401.28L289.93 403.67L290.69 406.06L291.45 408.45L292.21 410.85L292.97 413.24L293.73 415.64L294.49 418.04L295.25 420.43L296.01 422.83L296.76 425.23L297.52 427.63L298.28 430.04L299.03 432.44L299.79 434.84L300.55 437.25L301.3 439.66L302.06 442.06L302.82 444.47L303.57 446.88L304.33 449.29L305.09 451.7L305.85 454.11L306.61 456.52L307.37 458.94L308.13 461.35L308.89 463.77L309.66 466.18L310.42 468.6L311.19 471.02L311.96 473.44L312.74 475.85L313.53 478.26L314.34 480.66L315.17 483.04L316.05 485.39L316.96 487.73L317.92 490.03L318.94 492.3L320.02 494.53L321.17 496.71L322.4 498.85L323.71 500.93L325.1 502.96L326.6 504.92L328.19 506.81L329.89 508.61L331.69 510.29L333.6 511.84L335.61 513.25L337.71 514.52L339.9 515.67L342.16 516.71L344.49 517.64L346.87 518.48L349.29 519.24L351.74 519.93L354.22 520.57L356.71 521.16L359.2 521.71L361.69 522.23L364.18 522.71L366.67 523.15L369.16 523.55L371.66 523.91L374.15 524.23L376.64 524.5L379.14 524.73L381.63 524.91L384.13 525.05L386.63 525.14L389.12 525.21L391.62 525.23L394.12 525.23L396.62 525.19L399.12 525.12L401.62 525.03L404.12 524.91L406.62 524.77L409.13 524.61L411.63 524.44L414.13 524.25L416.63 524.04L419.14 523.82L421.64 523.6L424.14 523.37L426.65 523.13L429.15 522.9L431.66 522.66L434.16 522.43L436.67 522.2L439.17 521.97L441.68 521.76L444.18 521.56L446.69 521.37L449.19 521.2L451.7 521.04L454.2 520.91L456.71 520.8L459.21 520.71L461.72 520.65L464.22 520.62L466.73 520.61L469.23 520.64L471.73 520.69L474.23 520.77L476.73 520.88L479.23 521.01L481.73 521.18L484.22 521.37L486.72 521.59L489.2 521.84L491.69 522.11L494.18 522.42L496.66 522.75L499.13 523.11L501.61 523.49L504.08 523.9L506.54 524.34L509 524.81L511.46 525.31L513.91 525.83L516.36 526.38L518.8 526.95L521.24 527.56L523.67 528.19L526.09 528.84L528.51 529.53L530.93 530.24L533.33 530.97L535.73 531.73L538.13 532.5L540.53 533.28L542.92 534.07L545.3 534.87L547.69 535.67L550.08 536.47L552.47 537.27L554.85 538.05L557.24 538.83L559.63 539.58L562.03 540.32L564.43 541.04L566.83 541.72L569.24 542.38L571.65 543L574.07 543.59L576.5 544.13L578.93 544.63L581.38 545.08L583.83 545.48L586.3 545.83L588.77 546.11L591.26 546.36L593.75 546.58L596.25 546.8L598.75 547.04L601.26 547.32L603.77 547.64L606.28 547.99L608.79 548.37L611.31 548.78L613.82 549.2L616.34 549.63L618.85 550.06L621.36 550.48L623.87 550.9L626.38 551.29L628.88 551.67L631.38 552L633.88 552.3L636.37 552.56L638.86 552.76L641.34 552.91L643.82 552.99L646.29 552.99L648.75 552.92L651.2 552.77L653.65 552.55L656.1 552.27L658.53 551.91L660.97 551.5L663.4 551.04L665.82 550.52L668.24 549.95L670.65 549.34L673.07 548.69L675.48 548L677.88 547.28L680.29 546.53L682.69 545.76L685.1 544.96L687.5 544.15L689.9 543.33L692.3 542.5L694.7 541.66L697.11 540.83L699.51 539.99L701.92 539.17L704.33 538.35L706.74 537.55L709.15 536.77L711.57 536.01L713.99 535.28L716.41 534.58L718.84 533.91L721.27 533.29L723.71 532.7L726.16 532.16L728.61 531.68L731.06 531.24L733.53 530.86L735.99 530.54L738.47 530.27L740.95 530.04L743.43 529.87L745.91 529.75L748.4 529.67L750.89 529.64L753.38 529.66L755.88 529.72L758.37 529.82L760.87 529.97L763.36 530.15L765.85 530.38L768.35 530.65L770.84 530.95L773.32 531.29L775.81 531.67L778.29 532.08L780.77 532.53L783.24 533L785.71 533.51L788.17 534.05L790.63 534.62L793.08 535.22L795.52 535.84L797.95 536.49L800.38 537.16L802.8 537.86L805.21 538.58L807.61 539.32L809.99 540.09L812.4 540.87" stroke="#000000"/>
<path d="M82.3 71.62L84.45 72.81L86.66 74.02L88.85 75.26L91.02 76.52L93.18 77.81L95.33 79.12L97.46 80.45L99.57 81.8L101.67 83.18L103.76 84.57L105.83 85.99L107.89 87.43L109.93 88.89L111.96 90.36L113.97 91.86L115.97 93.38L117.96 94.91L119.93 96.47L121.89 98.04L123.84 99.62L125.77 101.23L127.69 102.85L129.6 104.49L131.49 106.14L133.37 107.81L135.24 109.5L137.09 111.19L138.93 112.91L140.76 114.63L142.58 116.37L144.38 118.12L146.18 119.89L147.96 121.67L149.73 123.45L151.48 125.25L153.23 127.07L154.96 128.89L156.69 130.72L158.4 132.56L160.1 134.41L161.79 136.27L163.47 138.14L165.13 140.02L166.79 141.9L168.44 143.79L170.07 145.69L171.7 147.6L173.31 149.51L174.92 151.42L176.52 153.35L178.1 155.27L179.68 157.2L181.24 159.14L182.8 161.08L184.35 163.03L185.89 164.98L187.43 166.93L188.96 168.89L190.48 170.86L192 172.83L193.51 174.81L195.02 176.79L196.52 178.78L198.02 180.77L199.52 182.77L201.02 184.78L202.52 186.79L204.01 188.8L205.51 190.83L207 192.86L208.5 194.9L210 196.94L211.5 198.99L213 201.05L214.51 203.11L216.02 205.17L217.54 207.23L219.08 209.29L220.63 211.33L222.2 213.36L223.79 215.37L225.4 217.36L227.04 219.32L228.7 221.26L230.4 223.16L232.13 225.02L233.89 226.84L235.7 228.62L237.55 230.34L239.44 232.02L241.37 233.62L243.34 235.16L245.36 236.62L247.42 237.99L249.52 239.27L251.66 240.45L253.84 241.53L256.06 242.52L258.31 243.42L260.6 244.24L262.91 244.97L265.26 245.63L267.63 246.22L270.03 246.74L272.46 247.2L274.9 247.59L277.37 247.93L279.85 248.22L282.35 248.46L284.86 248.66L287.38 248.82L289.91 248.94L292.45 249.03L295 249.09L297.55 249.13L300.1 249.15L302.65 249.15L305.2 249.14L307.74 249.13L310.29 249.1L312.83 249.07L315.36 249.03L317.9 248.98L320.43 248.92L322.96 248.86L325.48 248.79L328.01 248.71L330.53 248.63L333.05 248.54L335.57 248.45L338.08 248.35L340.6 248.25L343.11 248.14L345.62 248.03L348.13 247.92L350.64 247.8L353.14 247.68L355.65 247.56L358.15 247.43L360.66 247.3L363.16 247.18L365.66 247.05L368.16 246.92L370.66 246.78L373.16 246.65L375.66 246.52L378.16 246.39L380.66 246.26L383.16 246.13L385.66 246.01L388.16 245.88L390.66 245.76L393.16 245.64L395.66 245.52L398.17 245.4L400.67 245.29L403.17 245.18L405.67 245.07L408.17 244.96L410.68 244.85L413.18 244.75L415.68 244.65L418.19 244.55L420.69 244.45L423.19 244.36L425.7 244.26L428.2 244.17L430.71 244.08L433.21 243.99L435.72 243.91L438.22 243.82L440.73 243.74L443.24 243.66L445.74 243.58L448.25 243.51L450.76 243.43L453.26 243.36L455.77 243.29L458.28 243.22L460.79 243.15L463.29 243.08L465.8 243.02L468.31 242.96L470.82 242.9L473.33 242.84L475.84 242.78L478.35 242.72L480.86 242.67L483.37 242.61L485.88 242.56L488.39 242.51L490.9 242.46L493.41 242.41L495.92 242.37L498.43 242.32L500.94 242.28L503.45 242.24L505.96 242.19L508.47 242.15L510.98 242.12L513.49 242.08L516.01 242.04L518.52 242.01L521.03 241.98L523.54 241.94L526.05 241.91L528.57 241.88L531.08 241.85L533.59 241.83L536.1 241.8L538.62 241.78L541.13 241.75L543.64 241.73L546.16 241.71L548.67 241.68L551.18 241.66L553.7 241.64L556.21 241.63L558.72 241.61L561.24 241.59L563.75 241.58L566.27 241.56L568.78 241.55L571.29 241.53L573.81 241.52L576.32 241.51L578.84 241.5L581.35 241.49L583.86 241.48L586.38 241.47L588.89 241.46L591.41 241.45L593.92 241.45L596.44 241.44L598.95 241.43L601.46 241.43L603.98 241.42L606.49 241.42L609.01 241.42L611.52 241.41L614.04 241.41L616.55 241.41L619.07 241.41L621.58 241.41L624.09 241.41L626.61 241.4L629.12 241.4L631.64 241.4L634.15 241.4L636.67 241.41L639.18 241.41L641.7 241.41L644.21 241.41L646.72 241.41L649.24 241.41L651.75 241.41L654.27 241.42L656.78 241.42L659.29 241.42L661.81 241.42L664.32 241.43L666.84 241.43L669.35 241.43L671.86 241.43L674.38 241.44L676.89 241.44L679.4 241.44L681.92 241.44L684.43 241.45L686.94 241.45L689.45 241.45L691.97 241.45L694.48 241.45L696.99 241.46L699.5 241.46L702.02 241.46L704.53 241.46L707.04 241.46L709.55 241.46L712.06 241.46L714.58 241.46L717.09 241.46L719.6 241.46L722.11 241.46L724.62 241.45L727.13 241.45L729.64 241.45L732.15 241.44L734.66 241.44L737.17 241.44L739.68 241.43L742.19 241.43L744.7 241.42L747.21 241.41L749.72 241.41L752.23 241.4L754.74 241.39L757.25 241.38L759.75 241.37L762.26 241.36L764.77 241.35L767.28 241.34L769.79 241.32L772.29 241.31L774.8 241.3L777.31 241.28L779.81 241.26L782.32 241.25L784.83 241.23L787.33 241.21L789.84 241.19L792.34 241.17L794.85 241.15L797.35 241.12L799.86 241.1L802.36 241.08L804.86 241.05L807.37 241.02L809.87 240.99L812.4 240.97" stroke="#000000" stroke-dasharray="6.3 2.6"/>
<path d="M82.3 71.56L84.46 72.76L86.68 73.98L88.88 75.23L91.06 76.5L93.22 77.79L95.37 79.11L97.5 80.45L99.61 81.81L101.71 83.19L103.79 84.59L105.86 86.02L107.9 87.46L109.93 88.93L111.95 90.41L113.95 91.92L115.93 93.44L117.9 94.98L119.85 96.54L121.79 98.12L123.71 99.72L125.62 101.34L127.51 102.97L129.39 104.62L131.25 106.29L133.1 107.97L134.94 109.67L136.76 111.39L138.56 113.12L140.35 114.87L142.13 116.63L143.89 118.41L145.64 120.2L147.38 122L149.1 123.82L150.81 125.65L152.51 127.5L154.2 129.36L155.87 131.23L157.53 133.11L159.17 135L160.81 136.91L162.43 138.83L164.04 140.75L165.63 142.69L167.22 144.64L168.79 146.6L170.35 148.57L171.9 150.55L173.44 152.53L174.97 154.53L176.49 156.53L177.99 158.54L179.49 160.56L180.97 162.59L182.45 164.62L183.91 166.66L185.36 168.71L186.81 170.77L188.24 172.82L189.66 174.89L191.08 176.96L192.48 179.04L193.87 181.12L195.25 183.21L196.63 185.31L197.99 187.41L199.34 189.52L200.68 191.63L202.02 193.75L203.34 195.87L204.65 198L205.95 200.14L207.25 202.28L208.53 204.43L209.8 206.58L211.07 208.74L212.32 210.91L213.56 213.08L214.8 215.25L216.02 217.43L217.23 219.62L218.44 221.82L219.63 224.01L220.81 226.22L221.99 228.43L223.15 230.64L224.31 232.86L225.45 235.09L226.59 237.32L227.71 239.56L228.83 241.8L229.94 244.05L231.03 246.3L232.12 248.56L233.2 250.83L234.26 253.1L235.32 255.37L236.37 257.65L237.41 259.94L238.44 262.23L239.46 264.52L240.47 266.82L241.47 269.13L242.47 271.43L243.46 273.74L244.44 276.06L245.42 278.37L246.39 280.69L247.35 283.01L248.32 285.33L249.27 287.66L250.23 289.98L251.18 292.31L252.12 294.63L253.07 296.96L254.01 299.28L254.95 301.6L255.9 303.93L256.84 306.25L257.78 308.57L258.72 310.88L259.66 313.2L260.6 315.51L261.55 317.82L262.5 320.12L263.45 322.43L264.4 324.72L265.36 327.01L266.32 329.3L267.29 331.59L268.26 333.87L269.23 336.15L270.2 338.44L271.18 340.73L272.16 343.03L273.15 345.34L274.13 347.66L275.11 349.99L276.1 352.34L277.09 354.71L278.07 357.09L279.06 359.5L280.05 361.92L281.06 364.34L282.1 366.75L283.16 369.15L284.26 371.52L285.4 373.85L286.59 376.14L287.84 378.38L289.16 380.56L290.55 382.67L292.01 384.69L293.56 386.62L295.18 388.46L296.89 390.18L298.68 391.79L300.55 393.27L302.5 394.6L304.53 395.79L306.64 396.84L308.82 397.75L311.07 398.54L313.37 399.2L315.73 399.75L318.14 400.19L320.59 400.53L323.08 400.78L325.6 400.95L328.14 401.04L330.7 401.06L333.27 401.02L335.86 400.93L338.44 400.79L341.02 400.61L343.58 400.39L346.14 400.16L348.67 399.89L351.2 399.61L353.71 399.3L356.21 398.98L358.7 398.64L361.18 398.28L363.65 397.9L366.12 397.51L368.57 397.11L371.03 396.7L373.48 396.28L375.92 395.84L378.36 395.41L380.8 394.96L383.25 394.52L385.69 394.06L388.13 393.61L390.58 393.16L393.03 392.71L395.48 392.26L397.94 391.82L400.41 391.38L402.89 390.95L405.37 390.52L407.86 390.11L410.35 389.7L412.85 389.31L415.35 388.93L417.85 388.56L420.36 388.21L422.87 387.88L425.39 387.56L427.91 387.26L430.42 386.99L432.94 386.73L435.46 386.49L437.98 386.28L440.5 386.1L443.01 385.94L445.53 385.8L448.04 385.7L450.56 385.62L453.06 385.58L455.57 385.57L458.07 385.59L460.56 385.64L463.05 385.73L465.54 385.86L468.02 386.03L470.49 386.23L472.96 386.47L475.42 386.75L477.88 387.06L480.33 387.41L482.77 387.79L485.21 388.21L487.65 388.66L490.08 389.14L492.51 389.65L494.93 390.19L497.35 390.77L499.77 391.37L502.18 392L504.59 392.66L507 393.35L509.4 394.07L511.8 394.81L514.2 395.57L516.59 396.36L518.99 397.17L521.38 398.01L523.77 398.87L526.16 399.75L528.54 400.65L530.93 401.57L533.31 402.5L535.7 403.44L538.08 404.37L540.47 405.3L542.85 406.23L545.24 407.14L547.63 408.02L550.02 408.89L552.41 409.72L554.81 410.52L557.21 411.29L559.61 412L562.01 412.67L564.42 413.28L566.84 413.83L569.25 414.31L571.68 414.73L574.11 415.07L576.54 415.32L578.98 415.5L581.43 415.58L583.88 415.57L586.34 415.46L588.8 415.27L591.26 414.99L593.73 414.63L596.19 414.19L598.64 413.69L601.09 413.12L603.53 412.48L605.96 411.78L608.38 411.04L610.78 410.24L613.17 409.39L615.54 408.5L617.89 407.58L620.23 406.62L622.55 405.63L624.87 404.62L627.17 403.59L629.47 402.53L631.75 401.47L634.04 400.4L636.31 399.32L638.59 398.24L640.86 397.16L643.14 396.09L645.41 395.03L647.69 393.98L649.98 392.96L652.27 391.96L654.57 390.98L656.88 390.04L659.2 389.13L661.53 388.26L663.88 387.44L666.24 386.66L668.62 385.93L671.02 385.26L673.43 384.64L675.87 384.08L678.31 383.57L680.77 383.11L683.24 382.7L685.73 382.35L688.22 382.04L690.72 381.78L693.23 381.57L695.75 381.41L698.27 381.3L700.8 381.22L703.33 381.2L705.86 381.22L708.39 381.28L710.92 381.38L713.44 381.52L715.97 381.71L718.49 381.93L721 382.19L723.51 382.5L726 382.83L728.49 383.21L730.97 383.62L733.44 384.06L735.9 384.54L738.35 385.05L740.8 385.6L743.23 386.18L745.65 386.79L748.07 387.42L750.47 388.09L752.87 388.79L755.26 389.52L757.64 390.28L760.01 391.06L762.37 391.87L764.73 392.71L767.07 393.57L769.41 394.45L771.74 395.36L774.06 396.29L776.38 397.25L778.69 398.23L780.98 399.22L783.28 400.24L785.56 401.28L787.84 402.34L790.11 403.42L792.37 404.51L794.62 405.62L796.87 406.75L799.11 407.89L801.34 409.05L803.57 410.22L805.79 411.4L808.01 412.6L810.21 413.81L812.4 415.03" stroke="#ff0000" stroke-dasharray="6.3 2.6"/>
</g>
<g stroke="#000" fill="none">
<line x1="82.25" y1="3.2" x2="82.25" y2="574" stroke-width="2.1"/>
<line x1="67.2" y1="562.75" x2="827.1" y2="562.75" stroke-width="1.9"/>
<path d="M82.25 29.07H89.7M82.25 109.99H89.7M82.25 190.91H89.7M82.25 271.83H89.7M82.25 352.75H89.7M82.25 433.67H89.7M82.25 514.59H89.7" stroke-width="1.7"/>
<path d="M82.25 571.15H86M82.25 556.9H86M82.25 546.79H86M82.25 538.95H86M82.25 532.54H86M82.25 527.12H86M82.25 522.43H86M82.25 518.29H86M82.25 490.23H86M82.25 475.98H86M82.25 465.87H86M82.25 458.03H86M82.25 451.62H86M82.25 446.2H86M82.25 441.51H86M82.25 437.37H86M82.25 409.31H86M82.25 395.06H86M82.25 384.95H86M82.25 377.11H86M82.25 370.7H86M82.25 365.28H86M82.25 360.59H86M82.25 356.45H86M82.25 328.39H86M82.25 314.14H86M82.25 304.03H86M82.25 296.19H86M82.25 289.78H86M82.25 284.36H86M82.25 279.67H86M82.25 275.53H86M82.25 247.47H86M82.25 233.22H86M82.25 223.11H86M82.25 215.27H86M82.25 208.86H86M82.25 203.44H86M82.25 198.75H86M82.25 194.61H86M82.25 166.55H86M82.25 152.3H86M82.25 142.19H86M82.25 134.35H86M82.25 127.94H86M82.25 122.52H86M82.25 117.83H86M82.25 113.69H86M82.25 85.63H86M82.25 71.38H86M82.25 61.27H86M82.25 53.43H86M82.25 47.02H86M82.25 41.6H86M82.25 36.91H86M82.25 32.77H86" stroke-width="1.5"/>
<path d="M130.96 562.75V555.2M228.33 562.75V555.2M325.7 562.75V555.2M423.07 562.75V555.2M520.44 562.75V555.2M617.81 562.75V555.2M715.18 562.75V555.2M812.55 562.75V555.2" stroke-width="1.7"/>
<path d="M92.01 562.75V559M111.49 562.75V559M150.43 562.75V559M169.91 562.75V559M189.38 562.75V559M208.86 562.75V559M247.8 562.75V559M267.28 562.75V559M286.75 562.75V559M306.23 562.75V559M345.17 562.75V559M364.65 562.75V559M384.12 562.75V559M403.6 562.75V559M442.54 562.75V559M462.02 562.75V559M481.49 562.75V559M500.97 562.75V559M539.91 562.75V559M559.39 562.75V559M578.86 562.75V559M598.34 562.75V559M637.28 562.75V559M656.76 562.75V559M676.23 562.75V559M695.71 562.75V559M734.65 562.75V559M754.13 562.75V559M773.6 562.75V559M793.08 562.75V559" stroke-width="1.6"/>
</g>
<g font-family='"Liberation Sans", sans-serif' font-size="22" fill="#000">
<path d="M112.9 580.2H123.6" stroke="#000" stroke-width="1.6" fill="none"/>
<text x="124.75" y="585.9">2</text>
<text x="136.98" y="585.9">0</text>
<path d="M210.27 580.2H220.97" stroke="#000" stroke-width="1.6" fill="none"/>
<path d="M230.31 585.9L228.38 585.9L228.38 573.58Q227.68 574.24 226.55 574.91T224.51 575.91L224.51 574.04Q226.13 573.28 227.33 572.2T229.04 570.11L230.31 570.11Z" fill="#000"/>
<text x="234.35" y="585.9">0</text>
<text x="322.18" y="585.9">0</text>
<path d="M418.63 585.9L416.7 585.9L416.7 573.58Q416 574.24 414.87 574.91T412.83 575.91L412.83 574.04Q414.44 573.28 415.64 572.2T417.35 570.11L418.63 570.11Z" fill="#000"/>
<text x="422.67" y="585.9">0</text>
<text x="507.8" y="585.9">2</text>
<text x="520.04" y="585.9">0</text>
<text x="605.17" y="585.9">3</text>
<text x="617.41" y="585.9">0</text>
<text x="702.54" y="585.9">4</text>
<text x="714.78" y="585.9">0</text>
<text x="799.91" y="585.9">5</text>
<text x="812.15" y="585.9">0</text>
<path d="M53.26 36.37L51.33 36.37L51.33 24.05Q50.63 24.71 49.5 25.38T47.46 26.38L47.46 24.51Q49.07 23.75 50.27 22.67T51.98 20.58L53.26 20.58Z" fill="#000"/>
<text x="57.3" y="36.37">0</text>
<text x="69.54" y="27.77" font-size="15.4">0</text>
<path d="M44.27 117.29L42.33 117.29L42.33 104.97Q41.64 105.63 40.5 106.3T38.47 107.3L38.47 105.43Q40.08 104.67 41.28 103.59T42.99 101.5L44.27 101.5Z" fill="#000"/>
<text x="48.31" y="117.29">0</text>
<path d="M61.24 104.69H68.94" stroke="#000" stroke-width="1.4" fill="none"/>
<path d="M75.27 108.69L73.92 108.69L73.92 100.07Q73.43 100.53 72.64 101T71.21 101.7L71.21 100.39Q72.34 99.86 73.18 99.1T74.38 97.64L75.27 97.64Z" fill="#000"/>
<path d="M44.27 198.21L42.33 198.21L42.33 185.89Q41.64 186.55 40.5 187.22T38.47 188.22L38.47 186.35Q40.08 185.59 41.28 184.51T42.99 182.42L44.27 182.42Z" fill="#000"/>
<text x="48.31" y="198.21">0</text>
<path d="M61.24 185.61H68.94" stroke="#000" stroke-width="1.4" fill="none"/>
<text x="69.54" y="189.61" font-size="15.4">2</text>
<path d="M44.27 279.13L42.33 279.13L42.33 266.81Q41.64 267.47 40.5 268.14T38.47 269.14L38.47 267.27Q40.08 266.51 41.28 265.43T42.99 263.34L44.27 263.34Z" fill="#000"/>
<text x="48.31" y="279.13">0</text>
<path d="M61.24 266.53H68.94" stroke="#000" stroke-width="1.4" fill="none"/>
<text x="69.54" y="270.53" font-size="15.4">3</text>
<path d="M44.27 360.05L42.33 360.05L42.33 347.73Q41.64 348.39 40.5 349.06T38.47 350.06L38.47 348.19Q40.08 347.43 41.28 346.35T42.99 344.26L44.27 344.26Z" fill="#000"/>
<text x="48.31" y="360.05">0</text>
<path d="M61.24 347.45H68.94" stroke="#000" stroke-width="1.4" fill="none"/>
<text x="69.54" y="351.45" font-size="15.4">4</text>
<path d="M44.27 440.97L42.33 440.97L42.33 428.65Q41.64 429.31 40.5 429.98T38.47 430.98L38.47 429.11Q40.08 428.35 41.28 427.27T42.99 425.18L44.27 425.18Z" fill="#000"/>
<text x="48.31" y="440.97">0</text>
<path d="M61.24 428.37H68.94" stroke="#000" stroke-width="1.4" fill="none"/>
<text x="69.54" y="432.37" font-size="15.4">5</text>
<path d="M44.27 521.89L42.33 521.89L42.33 509.57Q41.64 510.23 40.5 510.9T38.47 511.9L38.47 510.03Q40.08 509.27 41.28 508.19T42.99 506.1L44.27 506.1Z" fill="#000"/>
<text x="48.31" y="521.89">0</text>
<path d="M61.24 509.29H68.94" stroke="#000" stroke-width="1.4" fill="none"/>
<text x="69.54" y="513.29" font-size="15.4">6</text>
</g>
<g font-family='"Liberation Sans", sans-serif' font-size="22" fill="#000">
<line x1="635.8" y1="40.9" x2="713" y2="40.9" stroke="#0000ff" stroke-width="1.9"/>
<text x="725.0" y="44.6"><tspan font-style="italic">N</tspan> = 0!!</text>
<line x1="635.8" y1="78.48" x2="713" y2="78.48" stroke="#ff0000" stroke-width="1.9"/>
<text x="725.0" y="82.18"><tspan font-style="italic">N</tspan> = </text>
<path d="M774.16 82.18L772.22 82.18L772.22 69.86Q771.52 70.52 770.39 71.19T768.36 72.19L768.36 70.32Q769.97 69.56 771.17 68.48T772.88 66.39L774.16 66.39Z" fill="#000"/>
<text x="778.2" y="82.18">!!</text>
<line x1="635.8" y1="116.06" x2="713" y2="116.06" stroke="#00aa00" stroke-width="1.9"/>
<text x="725.0" y="119.76"><tspan font-style="italic">N</tspan> = 2!!</text>
<line x1="635.8" y1="153.64" x2="713" y2="153.64" stroke="#800080" stroke-width="1.9"/>
<text x="725.0" y="157.34"><tspan font-style="italic">N</tspan> = 3!!</text>
<line x1="635.8" y1="191.22" x2="713" y2="191.22" stroke="#ff8000" stroke-width="1.9"/>
<text x="725.0" y="194.92"><tspan font-style="italic">N</tspan> = 4!!</text>
<line x1="635.8" y1="228.8" x2="713" y2="228.8" stroke="#0000aa" stroke-width="1.9"/>
<text x="725.0" y="232.5"><tspan font-style="italic">N</tspan> = 5!!</text>
<line x1="635.8" y1="266.38" x2="713" y2="266.38" stroke="#00aaaa" stroke-width="1.9"/>
<text x="725.0" y="270.08"><tspan font-style="italic">N</tspan> = 6!!</text>
<line x1="635.8" y1="303.96" x2="713" y2="303.96" stroke="#000000" stroke-width="1.9"/>
<text x="725.0" y="307.66"><tspan font-style="italic">N</tspan> = 7!!</text>
<line x1="635.8" y1="341.54" x2="713" y2="341.54" stroke="#000000" stroke-width="1.9" stroke-dasharray="6.3 2.6"/>
<text x="725.0" y="345.24"><tspan font-style="italic">N</tspan> = 7</text>
<line x1="635.8" y1="379.12" x2="713" y2="379.12" stroke="#ff0000" stroke-width="1.9" stroke-dasharray="6.3 2.6"/>
<text x="725.0" y="382.82"><tspan font-style="italic">N</tspan> = 7!</text>
</g>
<g font-family='"Liberation Sans", sans-serif' fill="#000">
<path d="M367.9 596.9L365.2 609.4Q364.5 612.9 367.6 612.9L370.6 612.9M361.9 601.7H373.2" fill="none" stroke="#000" stroke-width="1.9"/>
<path d="M378.6 607.4V617M374.6 608.1H378.6" fill="none" stroke="#000" stroke-width="1.6"/><rect x="377.7" y="604.1" width="1.9" height="1.9" fill="#000"/>
<line x1="385.8" y1="607.5" x2="396.6" y2="607.5" stroke="#000" stroke-width="1.2"/>
<path d="M411.1 596.9L408.4 609.4Q407.7 612.9 410.8 612.9L413.8 612.9M405.1 601.7H416.4" fill="none" stroke="#000" stroke-width="1.9"/>
<text x="416.3" y="617" font-size="17" letter-spacing="1.6">peak</text>
<path d="M472.7 597.8H468.6V618.3H472.7M497.8 597.8H501.9V618.3H497.8" fill="none" stroke="#333" stroke-width="1.1"/>
<text x="478.2" y="612.6" font-size="22.5" font-style="italic">M</text>
</g>
<path d="M20.8 332C15 331.6 8 330.4 1.1 326.9L20.2 344.9C14 342.8 8 343 1.1 344.9C8 348 16.5 352.5 21.3 359.5" fill="none" stroke="#000" stroke-width="1.3" stroke-linejoin="miter" stroke-linecap="round"/>
<path d="M-2 290.6C7 299.6 19 299.6 26.8 292.2" fill="none" stroke="#000" stroke-width="1.2"/>
<path d="M-2 250.2C7 240.4 19 240.4 26.8 248.4" fill="none" stroke="#000" stroke-width="1.2"/>
<path d="M2.4 277.8H20.3M20.3 271.8V283.8M2.6 274.6V281M2.5 270.8H9.5C13.5 270.8 15.6 274 15.6 277.8C15.6 281.6 13.5 284.9 9.5 284.9H2.5M2.6 269.4V272.4M2.6 283.4V286.4" fill="none" stroke="#000" stroke-width="1.15"/>
<text transform="translate(25.6 260.8) rotate(-90)" text-anchor="middle" font-family='"Liberation Sans", sans-serif' font-size="21.2">4</text>
</svg>
</div></body></html>
